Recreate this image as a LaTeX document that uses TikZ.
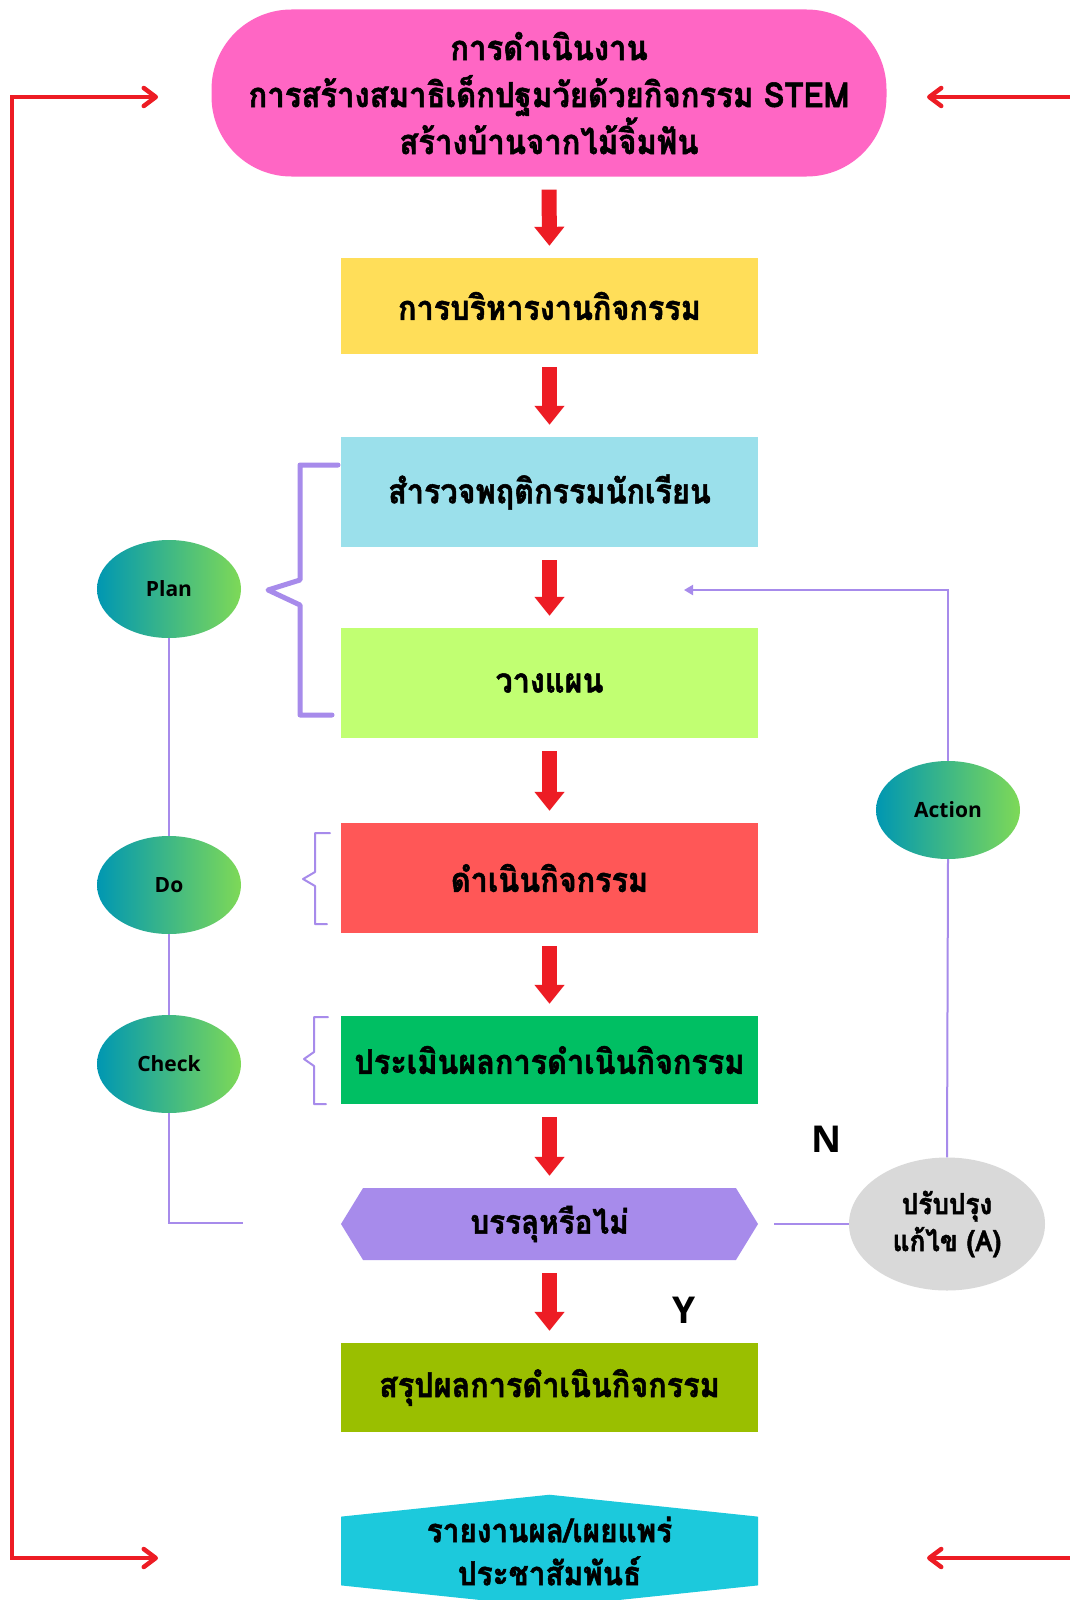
\documentclass[tikz,border=0pt]{standalone}
\usepackage{fontspec}
\setmainfont{Open Sans}
\newfontfamily\thaifont[Script=Thai,FakeStretch=0.9,BoldFeatures={FakeBold=1.5}]{Loma}
\usetikzlibrary{arrows.meta,shapes.geometric,shapes.symbols}
\definecolor{flowred}{HTML}{ED1C24}
\definecolor{titlepink}{HTML}{FF66C4}
\definecolor{adminyellow}{HTML}{FFDE59}
\definecolor{surveyblue}{HTML}{9BE0EB}
\definecolor{planlime}{HTML}{C1FF72}
\definecolor{doorange}{HTML}{FF5757}
\definecolor{evalgreen}{HTML}{00BF63}
\definecolor{linkpurple}{HTML}{A78BEB}
\definecolor{sumolive}{HTML}{9ABF00}
\definecolor{reportcyan}{HTML}{1CC9DC}
\definecolor{fixgray}{HTML}{D9D9D9}
\definecolor{gradA}{HTML}{0097B2}
\definecolor{gradB}{HTML}{7ED957}

\begin{document}
\begin{tikzpicture}[x=1pt,y=-1pt,box/.style={minimum width=417pt,inner sep=0pt,align=center,font=\thaifont\bfseries\fontsize{34}{43}\selectfont},pdca/.style={ellipse,minimum width=144pt,minimum height=98pt,left color=gradA,right color=gradB,font=\bfseries\fontsize{21}{24}\selectfont},flow/.style={draw=flowred,line width=15pt,-{Triangle[length=19pt,width=29pt]},shorten <=13pt,shorten >=12pt},barb/.tip={Straight Barb[length=12pt,width=18pt,round]},loopline/.style={draw=flowred,line width=4.5pt},link/.style={draw=linkpurple,line width=2pt},brace/.style={draw=linkpurple,line join=round,line cap=round}]
\path[use as bounding box,fill=white] (0,0) rectangle (1070,1600);
\node[box,fill=titlepink,minimum width=675pt,minimum height=167pt,rounded corners=80pt,font=\thaifont\bfseries\fontsize{34.5}{47}\selectfont](title) at (549,93) {การดำเนินงาน\\การสร้างสมาธิเด็กปฐมวัยด้วยกิจกรรม STEM\\สร้างบ้านจากไม้จิ้มฟัน};
\node[box,fill=adminyellow,minimum height=96pt](admin) at (549.5,306) {การบริหารงานกิจกรรม};
\node[box,fill=surveyblue,minimum height=110pt](survey) at (549.5,492) {สำรวจพฤติกรรมนักเรียน};
\node[box,fill=planlime,minimum height=110pt](planning) at (549.5,683) {วางแผน};
\node[box,fill=doorange,minimum height=110pt](doing) at (549.5,878) {ดำเนินกิจกรรม};
\node[box,fill=evalgreen,minimum height=88pt](evaluate) at (549.5,1060) {ประเมินผลการดำเนินกิจกรรม};
\node[box,shape=signal,signal to=west and east,signal pointer angle=117,fill=linkpurple,minimum height=72pt,font=\thaifont\bfseries\fontsize{33}{40}\selectfont](decide) at (549.5,1224) {บรรลุหรือไม่};
\node[box,fill=sumolive,minimum height=89pt](summary) at (549.5,1387.5) {สรุปผลการดำเนินกิจกรรม};
\node[box,shape=signal,signal to=north and south,signal pointer angle=168,fill=reportcyan,minimum height=88pt,font=\thaifont\bfseries\fontsize{33}{43}\selectfont](report) at (549.5,1551) {รายงานผล/เผยแพร่\\ประชาสัมพันธ์};
\node[pdca](plan) at (169,589) {Plan};
\node[pdca](do) at (169,885) {Do};
\node[pdca](check) at (169,1064) {Check};
\node[pdca](action) at (948,810) {Action};
\node[ellipse,fill=fixgray,minimum width=196pt,minimum height=133pt,inner sep=0pt,align=center,font=\thaifont\bfseries\fontsize{29}{37}\selectfont](fix) at (947,1224) {ปรับปรุง\\แก้ไข (A)};
\node[font=\bfseries\fontsize{37}{40}\selectfont](no) at (827,1139) {N};
\node[font=\bfseries\fontsize{37}{40}\selectfont](yes) at (684,1310) {Y};
\draw[flow] (title.south) -- (admin.north);
\draw[flow] (admin.south) -- (survey.north);
\draw[flow] (survey.south) -- (planning.north);
\draw[flow] (planning.south) -- (doing.north);
\draw[flow] (doing.south) -- (evaluate.north);
\draw[flow] (evaluate.south) -- (decide.north);
\draw[flow] (decide.south) -- (summary.north);
\coordinate (lefttop) at (158,97);
\coordinate (leftbottom) at (158,1558);
\coordinate (righttop) at (927,97);
\coordinate (rightbottom) at (927,1558);
\draw[loopline,barb-barb] (lefttop) -- (12,97) -- (12,1558) -- (leftbottom);
\draw[loopline,-barb] (1072,97) -- (righttop);
\draw[loopline,-barb] (1072,1558) -- (rightbottom);
\coordinate (checkend) at (243,1223);
\coordinate (backend) at (684,590);
\draw[link] (plan.south) -- (do.north);
\draw[link] (do.south) -- (check.north);
\draw[link] (check.south) |- (checkend);
\draw[link,shorten <=16pt] (decide.east) -- (fix.west);
\draw[link] (fix.north) -- (action.south);
\draw[link,-{Triangle[length=9pt,width=10pt]}] (action.north) |- (backend);
\draw[brace,line width=5pt] (338,465) -- (300,465) -- (300,580) -- (268,590) -- (300,605) -- (300,715) -- (332,715);
\draw[brace,line width=2pt] (330,833) -- (315,833) -- (315,872) -- (303,879) -- (315,886) -- (315,924) -- (327,924);
\draw[brace,line width=2pt] (328,1017) -- (314,1017) -- (314,1052) -- (304,1059) -- (314,1066) -- (314,1104) -- (326,1104);
\end{tikzpicture}
\end{document}
